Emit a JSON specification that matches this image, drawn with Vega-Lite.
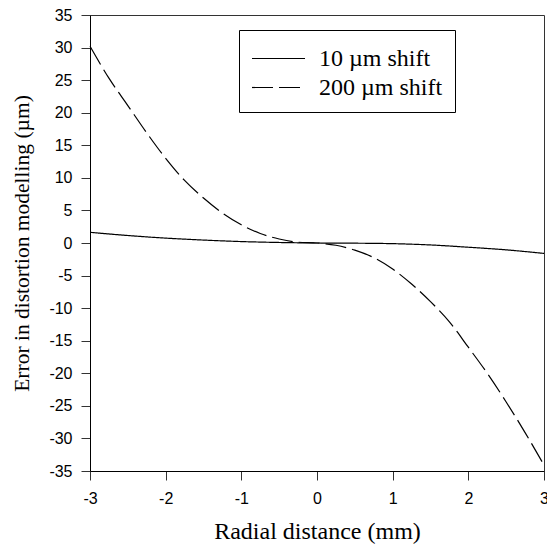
{
  "$schema": "https://vega.github.io/schema/vega-lite/v6.json",
  "width": 454,
  "height": 456,
  "autosize": {"type": "none"},
  "padding": {"left": 90, "top": 15, "right": 3, "bottom": 77},
  "background": "white",
  "config": {
    "view": {"stroke": "#333333", "strokeWidth": 1},
    "axis": {
      "domainColor": "black",
      "tickColor": "#333333",
      "grid": false,
      "labelFont": "Liberation Sans",
      "labelFontSize": 16,
      "labelColor": "black",
      "titleFont": "Liberation Serif",
      "titleFontWeight": "normal",
      "titleColor": "black",
      "tickSize": 9
    }
  },
  "data": {
    "values": [
      {"series": "10 µm shift", "r": -3, "e": 1.64},
      {"series": "10 µm shift", "r": -2.5, "e": 1.15},
      {"series": "10 µm shift", "r": -2, "e": 0.75},
      {"series": "10 µm shift", "r": -1.5, "e": 0.45},
      {"series": "10 µm shift", "r": -1, "e": 0.22},
      {"series": "10 µm shift", "r": -0.5, "e": 0.08},
      {"series": "10 µm shift", "r": 0, "e": 0},
      {"series": "10 µm shift", "r": 0.5, "e": -0.03},
      {"series": "10 µm shift", "r": 1, "e": -0.1},
      {"series": "10 µm shift", "r": 1.5, "e": -0.3},
      {"series": "10 µm shift", "r": 2, "e": -0.65},
      {"series": "10 µm shift", "r": 2.5, "e": -1.05},
      {"series": "10 µm shift", "r": 3, "e": -1.6},
      {"series": "200 µm shift", "r": -3, "e": 30.2},
      {"series": "200 µm shift", "r": -2.75, "e": 25.3},
      {"series": "200 µm shift", "r": -2.5, "e": 21.1},
      {"series": "200 µm shift", "r": -2.25, "e": 16.9},
      {"series": "200 µm shift", "r": -2, "e": 13.0},
      {"series": "200 µm shift", "r": -1.75, "e": 9.6},
      {"series": "200 µm shift", "r": -1.5, "e": 6.9},
      {"series": "200 µm shift", "r": -1.25, "e": 4.6},
      {"series": "200 µm shift", "r": -1, "e": 2.8},
      {"series": "200 µm shift", "r": -0.75, "e": 1.46},
      {"series": "200 µm shift", "r": -0.5, "e": 0.62},
      {"series": "200 µm shift", "r": -0.25, "e": 0.12},
      {"series": "200 µm shift", "r": 0, "e": 0},
      {"series": "200 µm shift", "r": 0.25, "e": -0.35},
      {"series": "200 µm shift", "r": 0.5, "e": -1.1},
      {"series": "200 µm shift", "r": 0.75, "e": -2.25},
      {"series": "200 µm shift", "r": 1, "e": -4.0},
      {"series": "200 µm shift", "r": 1.25, "e": -6.3},
      {"series": "200 µm shift", "r": 1.5, "e": -9.0},
      {"series": "200 µm shift", "r": 1.75, "e": -12.1},
      {"series": "200 µm shift", "r": 2, "e": -16.0},
      {"series": "200 µm shift", "r": 2.25, "e": -20.0},
      {"series": "200 µm shift", "r": 2.5, "e": -24.4},
      {"series": "200 µm shift", "r": 2.75, "e": -29.1},
      {"series": "200 µm shift", "r": 3, "e": -34.1}
    ]
  },
  "mark": {"type": "line", "color": "black", "strokeWidth": 1.2, "interpolate": "monotone"},
  "encoding": {
    "x": {
      "field": "r",
      "type": "quantitative",
      "scale": {"domain": [-3, 3], "nice": false, "zero": false},
      "axis": {
        "title": "Radial distance (mm)",
        "titleFontSize": 24,
        "values": [-3, -2, -1, 0, 1, 2, 3],
        "labelExpr": "datum.value + ''",
        "labelPadding": 10,
        "titlePadding": 13,
        "labelFlush": false
      }
    },
    "y": {
      "field": "e",
      "type": "quantitative",
      "scale": {"domain": [-35, 35], "nice": false},
      "axis": {
        "title": "Error in distortion modelling (µm)",
        "titleFontSize": 21.5,
        "values": [-35, -30, -25, -20, -15, -10, -5, 0, 5, 10, 15, 20, 25, 30, 35],
        "labelExpr": "datum.value + ''",
        "labelPadding": 9,
        "titlePadding": 15
      }
    },
    "strokeDash": {
      "field": "series",
      "type": "nominal",
      "scale": {"domain": ["10 µm shift", "200 µm shift"], "range": [[1, 0], [21, 6]]},
      "legend": {
        "title": null,
        "orient": "none",
        "legendX": 149,
        "legendY": 15,
        "strokeColor": "black",
        "padding": 12,
        "symbolType": "M-1,0H2.42",
        "symbolSize": 961,
        "symbolStrokeWidth": 1.2,
        "symbolStrokeColor": "black",
        "labelFont": "Liberation Serif",
        "labelFontSize": 24,
        "labelColor": "black",
        "labelOffset": 35,
        "rowPadding": 0
      }
    }
  }
}
